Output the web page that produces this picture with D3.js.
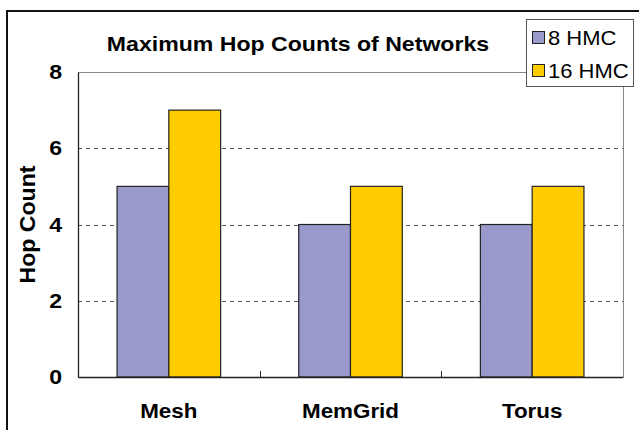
<!DOCTYPE html>
<html><head><meta charset="utf-8">
<script src="https://cdn.jsdelivr.net/npm/d3@7"></script>
<style>body{margin:0;background:#fff}svg{display:block;font-family:"Liberation Sans",Arial,sans-serif}</style>
</head><body><svg id="c" width="639" height="430"></svg>
<script>
const categories = ["Mesh", "MemGrid", "Torus"];
const seriesNames = ["8 HMC", "16 HMC"];
const hmc8 = [5, 4, 4];
const hmc16 = [7, 5, 5];
const yTicks = [0, 2, 4, 6, 8];
const colors = ["#9999CC", "#FFCC00"];

const svg = d3.select("#c");
const m = {left: 78, right: 623, top: 72, bottom: 377};
const FONT = "Liberation Sans, Arial, sans-serif";
// horizontal stretch about an anchor x
const stretch = (x, s) => `translate(${x},0) scale(${s},1) translate(${-x},0)`;

// outer frame
svg.append("rect").attr("x", 7).attr("y", 11).attr("width", 660).attr("height", 460)
  .attr("fill", "none").attr("stroke", "#111").attr("stroke-width", 2);

const x0 = d3.scaleBand().domain(categories).range([m.left, m.right]).padding(0);
const x1 = d3.scaleBand().domain(seriesNames).range([0, x0.bandwidth()]).paddingInner(0).paddingOuter(0.754);
const y = d3.scaleLinear().domain([0, 8]).range([m.bottom, m.top]);

// gridlines
svg.append("g").selectAll("line").data(yTicks.filter(d => d > 0 && d < 8)).join("line")
  .attr("x1", m.left).attr("x2", m.right).attr("y1", d => Math.round(y(d)) + 0.5).attr("y2", d => Math.round(y(d)) + 0.5)
  .attr("stroke", "#555").attr("stroke-width", 1).attr("stroke-dasharray", "4,4");
// plot top and right border
svg.append("line").attr("x1", m.left).attr("x2", m.right).attr("y1", y(8) + 0.5).attr("y2", y(8) + 0.5)
  .attr("stroke", "#888");
svg.append("line").attr("x1", m.right + 0.5).attr("x2", m.right + 0.5).attr("y1", 86).attr("y2", m.bottom)
  .attr("stroke", "#888");

// bars
const data = categories.map((c, i) => ({c, vals: [hmc8[i], hmc16[i]]}));
const g = svg.append("g").selectAll("g").data(data).join("g").attr("transform", d => `translate(${x0(d.c)},0)`);
g.selectAll("rect").data(d => d.vals.map((v, j) => ({s: seriesNames[j], v, j}))).join("rect")
  .attr("x", d => x1(d.s)).attr("width", x1.bandwidth())
  .attr("y", d => y(d.v)).attr("height", d => y(0) - y(d.v))
  .attr("fill", d => colors[d.j]).attr("stroke", "#222").attr("stroke-width", 1.2);

// y axis
const ya = svg.append("g").attr("transform", `translate(${m.left},0)`)
  .call(d3.axisLeft(y).tickValues(yTicks).tickSize(0).tickPadding(16).tickFormat(d3.format("d")));
ya.select(".domain").attr("stroke", "#222").attr("stroke-width", 1.3);
ya.selectAll("text").attr("font-size", 21).attr("font-weight", "bold").attr("fill", "#000")
  .attr("font-family", FONT).attr("transform", stretch(-16, 1.1));

// x axis
const xa = svg.append("g").attr("transform", `translate(0,${m.bottom})`)
  .call(d3.axisBottom(x0).tickSize(0).tickPadding(27));
xa.select(".domain").attr("stroke", "#222").attr("stroke-width", 1.3);
xa.selectAll("text").attr("font-size", 20).attr("font-weight", "bold").attr("fill", "#000")
  .attr("font-family", FONT).attr("transform", stretch(0, 1.12));
// category separator ticks
svg.append("g").selectAll("line").data(categories.slice(1)).join("line")
  .attr("x1", d => Math.round(x0(d)) + 0.5).attr("x2", d => Math.round(x0(d)) + 0.5)
  .attr("y1", m.bottom).attr("y2", m.bottom - 6)
  .attr("stroke", "#222");

// title
svg.append("text").attr("x", 298).attr("y", 51).attr("text-anchor", "middle")
  .attr("font-size", 20).attr("font-weight", "bold").attr("transform", stretch(298, 1.155))
  .text("Maximum Hop Counts of Networks");
// y title
svg.append("text").attr("transform", `translate(35,${(m.top + m.bottom) / 2}) rotate(-90) scale(1.05,1)`)
  .attr("text-anchor", "middle").attr("font-size", 22).attr("font-weight", "bold")
  .text("Hop Count");

// legend
const lg = svg.append("g");
lg.append("rect").attr("x", 526.5).attr("y", 19.5).attr("width", 107).attr("height", 67)
  .attr("fill", "#fff").attr("stroke", "#555");
seriesNames.forEach((s, i) => {
  const yy = 38 + i * 33;
  lg.append("rect").attr("x", 532.5).attr("y", yy - 6.5).attr("width", 12).attr("height", 12)
    .attr("fill", colors[i]).attr("stroke", "#222");
  lg.append("text").attr("x", 548).attr("y", yy + 7).attr("font-size", 20)
    .attr("transform", stretch(548, 1.1)).text(s);
});
</script></body></html>
